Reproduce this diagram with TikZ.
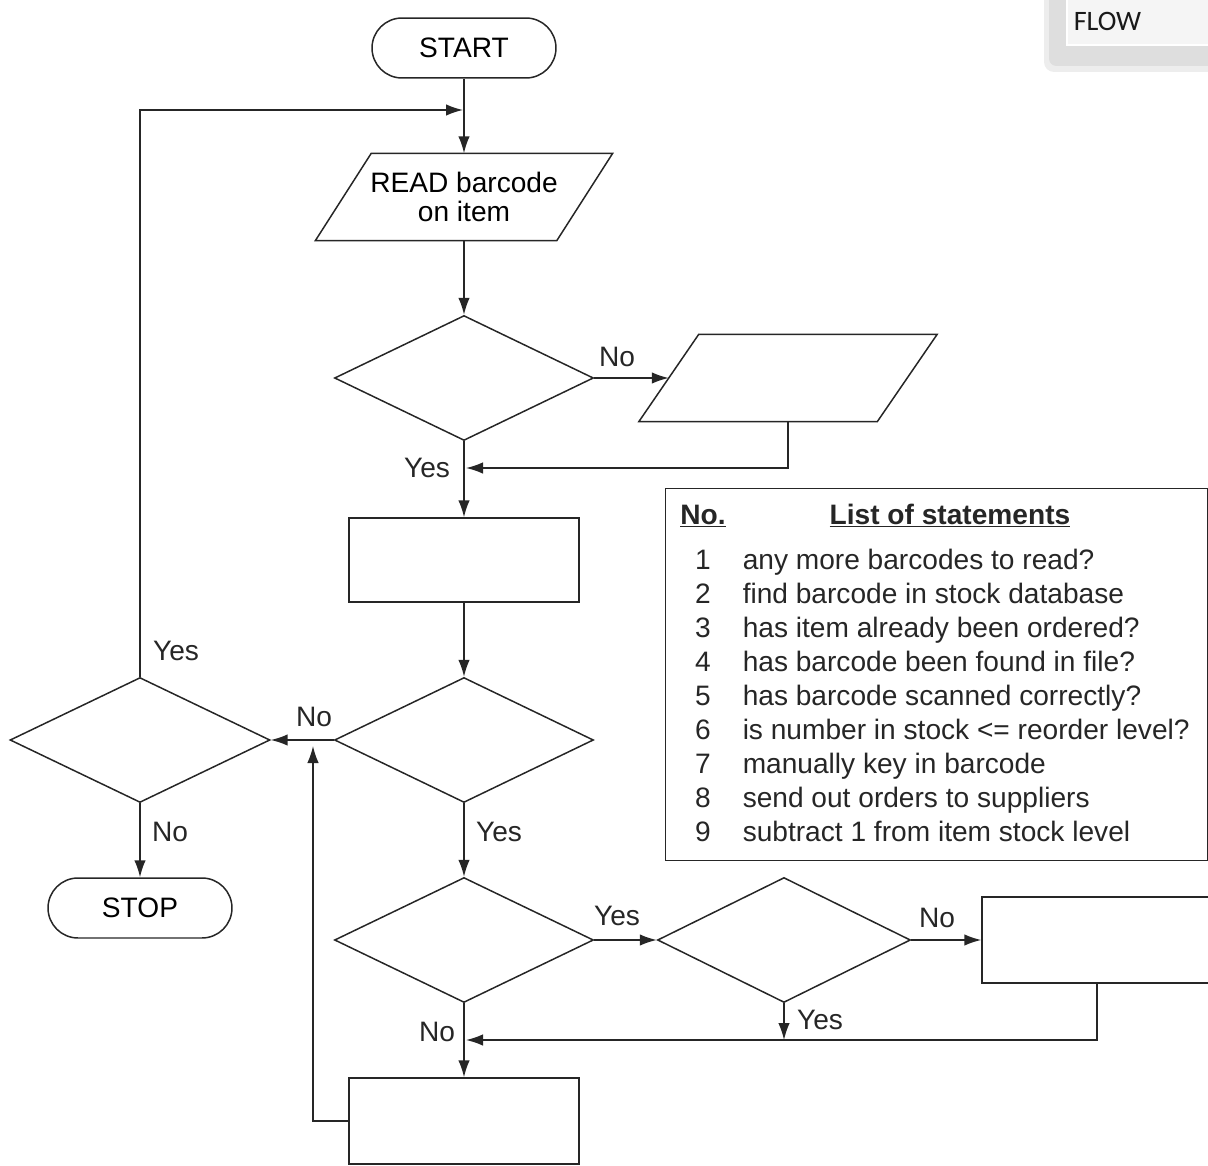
\documentclass[tikz,border=0pt]{standalone}
\usepackage{fontspec}
\setmainfont{Liberation Sans}
\newfontfamily\uifont{Carlito}
\usetikzlibrary{shapes.geometric,arrows.meta,calc}

\begin{document}
\begin{tikzpicture}[x=0.02cm,y=-0.02cm,
  font=\fontsize{16}{16}\selectfont,
  every path/.style={line width=0.85pt},
  terminal/.style={draw=black!85, rectangle, rounded corners=0.6cm, minimum width=3.68cm, minimum height=1.2cm, inner sep=0},
  decision/.style={draw=black!85, diamond, minimum width=5.18cm, minimum height=2.5cm, inner sep=0},
  process/.style={draw=black!85, rectangle, minimum width=4.6cm, minimum height=1.72cm, inner sep=0},
  iobody/.style={rectangle, minimum height=1.72cm, inner sep=0, align=center},
  flow/.style={draw=black!85, -{Latex[length=0.34cm,width=0.23cm]}},
  lbl/.style={inner sep=0, text=black!85},
  rowtext/.style={inner sep=0, text=black!85, anchor=base west},
  rownum/.style={inner sep=0, text=black!85, anchor=base}]

\useasboundingbox (0,0) rectangle (1208,1166);

% window tab in the corner
\fill[black!7, rounded corners=0.2cm] (1044,-30) rectangle (1260,72);
\fill[black!13, rounded corners=0.15cm] (1049,-30) rectangle (1260,66);
\fill[black!4] (1067,-10) rectangle (1260,45);
\draw[white, line width=0.6pt] (1067,-10) rectangle (1260,45);
\node[anchor=west, inner sep=0, font=\uifont\fontsize{16}{16}\selectfont, text=black!90] (flowtab) at (1073,21) {FLOW};

% main column
\node[terminal] (start) at (464,48) {START};
\node[iobody, minimum width=4.8cm] (read) at (464,197) {READ barcode\\on item};
\draw[draw=black!85] ([xshift=0.56cm]read.north west) -- ([xshift=0.56cm]read.north east)
  -- ([xshift=-0.56cm]read.south east) -- ([xshift=-0.56cm]read.south west) -- cycle;
\node[decision] (d1) at (464,378) {};
\node[iobody, minimum width=4.74cm] (para) at (788,378) {};
\draw[draw=black!85] ([xshift=0.6cm]para.north west) -- ([xshift=0.6cm]para.north east)
  -- ([xshift=-0.6cm]para.south east) -- ([xshift=-0.6cm]para.south west) -- cycle;
\node[process, minimum height=1.68cm] (p1) at (464,560) {};
\node[decision] (d2) at (464,740) {};
\node[decision, minimum width=5.2cm] (dl) at (140,740) {};
\node[terminal] (stop) at (140,908) {STOP};
\node[decision] (d3) at (464,940) {};
\node[decision, minimum width=5.06cm] (d4) at (784,940) {};
\node[process, minimum width=5.36cm] (p3) at (1116,940) {};
\node[process] (p4) at (464,1121) {};

% junction points
\coordinate (loopin) at (463,110);
\coordinate (joinA) at (466,468);
\coordinate (upend) at (313,746);
\coordinate (p3tap) at (1097,984);
\coordinate (joinB) at (466,1040);

% connectors
\draw[flow] (start.south) -- (read.north);
\draw[flow] (dl.north) |- (loopin);
\draw[flow] (read.south) -- (d1.north);
\draw[flow] (d1.east) -- (para.west);
\draw[flow] (para.south) |- (joinA);
\draw[flow] (d1.south) -- (p1.north);
\draw[flow] (p1.south) -- (d2.north);
\draw[flow] (d2.west) -- (dl.east);
\draw[flow] (p4.west) -| (upend);
\draw[flow] (dl.south) -- (stop.north);
\draw[flow] (d2.south) -- (d3.north);
\draw[flow] (d3.east) -- (d4.west);
\draw[flow] (d4.east) -- (p3.west);
\draw[flow] (p3tap) |- (joinB);
\draw[flow] (d4.south) -- (d4.south |- joinB);
\draw[flow] (d3.south) -- (p4.north);

% branch labels
\node[lbl] (l1) at (617,357) {No};
\node[lbl] (l2) at (427,468) {Yes};
\node[lbl] (l3) at (176,651) {Yes};
\node[lbl] (l4) at (314,717) {No};
\node[lbl] (l5) at (170,832) {No};
\node[lbl] (l6) at (499,832) {Yes};
\node[lbl] (l7) at (617,916) {Yes};
\node[lbl] (l8) at (937,918) {No};
\node[lbl] (l9) at (820,1020) {Yes};
\node[lbl] (l10) at (437,1032) {No};

% list of statements
\node[draw=black!85, anchor=north west, minimum width=10.84cm, minimum height=7.44cm, inner sep=0] (tbl) at (665,488) {};
\node[rownum, font=\bfseries\fontsize{16}{16}\selectfont] (hno) at (703,524) {\underline{No.}};
\node[rownum, font=\bfseries\fontsize{16}{16}\selectfont] (hlist) at (950,524) {\underline{List of statements}};
\foreach \n/\t [count=\i from 0] in {
  1/any more barcodes to read?,
  2/find barcode in stock database,
  3/has item already been ordered?,
  4/has barcode been found in file?,
  5/has barcode scanned correctly?,
  6/is number in stock <= reorder level?,
  7/manually key in barcode,
  8/send out orders to suppliers,
  9/subtract 1 from item stock level} {
  \node[rownum] (num\n) at (703,569+34*\i) {\n};
  \node[rowtext] (st\n) at (742,569+34*\i) {\t};
}
\end{tikzpicture}
\end{document}
